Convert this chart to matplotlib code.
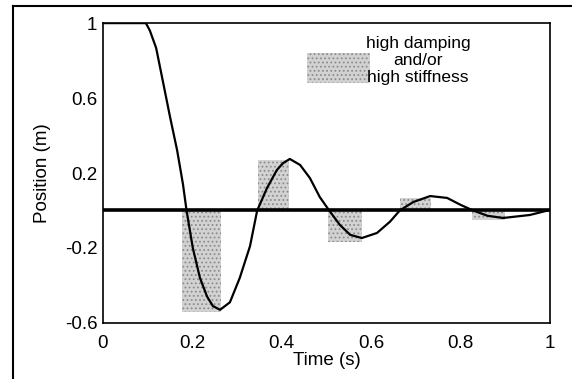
import matplotlib
matplotlib.use("Agg")
import matplotlib.pyplot as plt
from matplotlib.patches import Rectangle
from matplotlib.lines import Line2D

plt.rcParams["font.family"] = ["Liberation Sans", "DejaVu Sans"]
plt.rcParams["hatch.linewidth"] = 0.8

# -------------------------------
# Data
# -------------------------------
time_s = [0.0, 0.09, 0.096, 0.105, 0.119, 0.134, 0.150, 0.166, 0.179, 0.187,
          0.201, 0.217, 0.233, 0.246, 0.262, 0.284, 0.306, 0.329, 0.345, 0.367,
          0.389, 0.403, 0.418, 0.441, 0.463, 0.485, 0.506, 0.530, 0.553, 0.579,
          0.613, 0.642, 0.664, 0.694, 0.732, 0.770, 0.800, 0.828, 0.860, 0.895,
          0.955, 1.0]
position_m = [1.0, 1.0, 1.0, 0.96, 0.867, 0.69, 0.50, 0.32, 0.14, 0.0,
              -0.20, -0.36, -0.46, -0.51, -0.53, -0.49, -0.36, -0.19, 0.0, 0.12,
              0.216, 0.253, 0.275, 0.243, 0.173, 0.072, 0.0, -0.077, -0.13, -0.147,
              -0.12, -0.06, 0.0, 0.045, 0.077, 0.067, 0.03, 0.0, -0.028, -0.04,
              -0.024, 0.003]

# shaded regions: (t start, t end, position limit)
shade_start = [0.177, 0.347, 0.503, 0.664, 0.826]
shade_end = [0.264, 0.416, 0.579, 0.734, 0.900]
shade_limit = [-0.54, 0.27, -0.17, 0.067, -0.05]

x_ticks = [0, 0.2, 0.4, 0.6, 0.8, 1]
x_labels = ["0", "0.2", "0.4", "0.6", "0.8", "1"]
y_ticks = [-0.6, -0.2, 0.2, 0.6, 1]
y_labels = ["-0.6", "-0.2", "0.2", "0.6", "1"]

fig = plt.figure(figsize=(5.72, 3.79), dpi=100)
ax = fig.add_axes([0.180, 0.148, 0.7815, 0.791])

shade = dict(facecolor="#d2d2d2", edgecolor="#8c8c8c", linewidth=0,
             hatch="....", zorder=1)
for t0, t1, lim in zip(shade_start, shade_end, shade_limit):
    ax.add_patch(Rectangle((t0, min(0, lim)), t1 - t0, abs(lim), **shade))

# legend swatch
ax.add_patch(Rectangle((0.456, 0.68), 0.141, 0.16, **shade))
ax.text(0.705, 0.80, "high damping\nand/or\nhigh stiffness", ha="center",
        va="center", fontsize=12.5, linespacing=1.15)

ax.axhline(0, color="black", lw=2.6, zorder=2)
ax.plot(time_s, position_m, color="black", lw=1.6, zorder=3)

ax.set_xlim(0, 1)
ax.set_ylim(-0.6, 1)
ax.set_xticks(x_ticks)
ax.set_xticklabels(x_labels)
ax.set_yticks(y_ticks)
ax.set_yticklabels(y_labels)
ax.tick_params(length=0, labelsize=13.5)
ax.tick_params(axis="x", pad=9)
ax.tick_params(axis="y", pad=4)
ax.set_xlabel("Time (s)", fontsize=13.5, labelpad=0)
ax.set_ylabel("Position (m)", fontsize=13.5, labelpad=10)
for sp in ax.spines.values():
    sp.set_linewidth(1.2)

# outer frame (top and left edges)
fig.add_artist(Line2D([13 / 572, 1], [1 - 6 / 379, 1 - 6 / 379],
                      color="black", lw=1.5))
fig.add_artist(Line2D([13 / 572, 13 / 572], [0, 1 - 6 / 379],
                      color="black", lw=1.5))

fig.savefig("out.png", dpi=100)
